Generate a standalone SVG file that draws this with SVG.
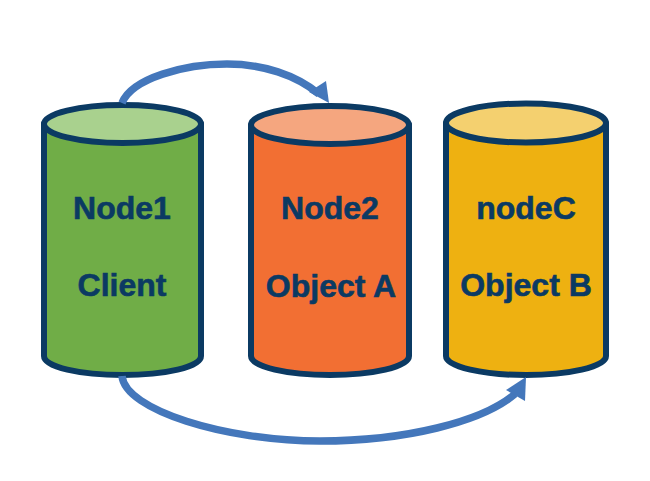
<svg xmlns="http://www.w3.org/2000/svg" width="650" height="481" viewBox="0 0 650 481">
<style>
.body{stroke:#0b3a63;stroke-width:6;stroke-linejoin:round}
.top{stroke:#0b3a63;stroke-width:6}
.t{font-family:"Liberation Sans",Arial,sans-serif;font-weight:700;font-size:32px;fill:#0b3a63;stroke:#0b3a63;stroke-width:0.6;text-anchor:middle}
.c{fill:none;stroke:#4477bb;stroke-width:7.500}
.h{fill:#4477bb}
</style>
<rect width="650" height="481" fill="#fff"/>
<g id="node1">
<path class="body" fill="#70ad47" d="M44 124V356C44 367 80 375 122.500 375C165 375 201 367 201 356V124Z"/>
<ellipse class="top" fill="#a9d18e" cx="122.500" cy="124" rx="78.500" ry="19"/>
<text class="t" x="122" y="219">Node1</text>
<text class="t" x="122" y="296">Client</text>
</g>
<g id="node2">
<path class="body" fill="#f26f33" d="M251 125V356C251 367 288 375 330 375C372 375 409 367 409 356V125Z"/>
<ellipse class="top" fill="#f5a67f" cx="330" cy="125" rx="79" ry="19"/>
<text class="t" x="330" y="219">Node2</text>
<text class="t" x="331" y="297">Object A</text>
</g>
<g id="nodeC">
<path class="body" fill="#eeb111" d="M446 123V356C446 367 484 375 526 375C568 375 606 367 606 356V123Z"/>
<ellipse class="top" fill="#f4d06f" cx="526" cy="123" rx="80" ry="19.500"/>
<text class="t" x="526" y="219">nodeC</text>
<text class="t" x="526" y="296">Object B</text>
</g>
<g id="connectors">
<path class="c" d="M122 103C132 78 185 64 227 64C263 64 296 75 319 94"/>
<polygon class="h" points="329,103 326,81 309,92"/>
<path class="c" d="M122 376C125 410 225 441 320 441C405 441 482 422 515 394"/>
<polygon class="h" points="526,377 506,390 525,401"/>
</g>
</svg>
